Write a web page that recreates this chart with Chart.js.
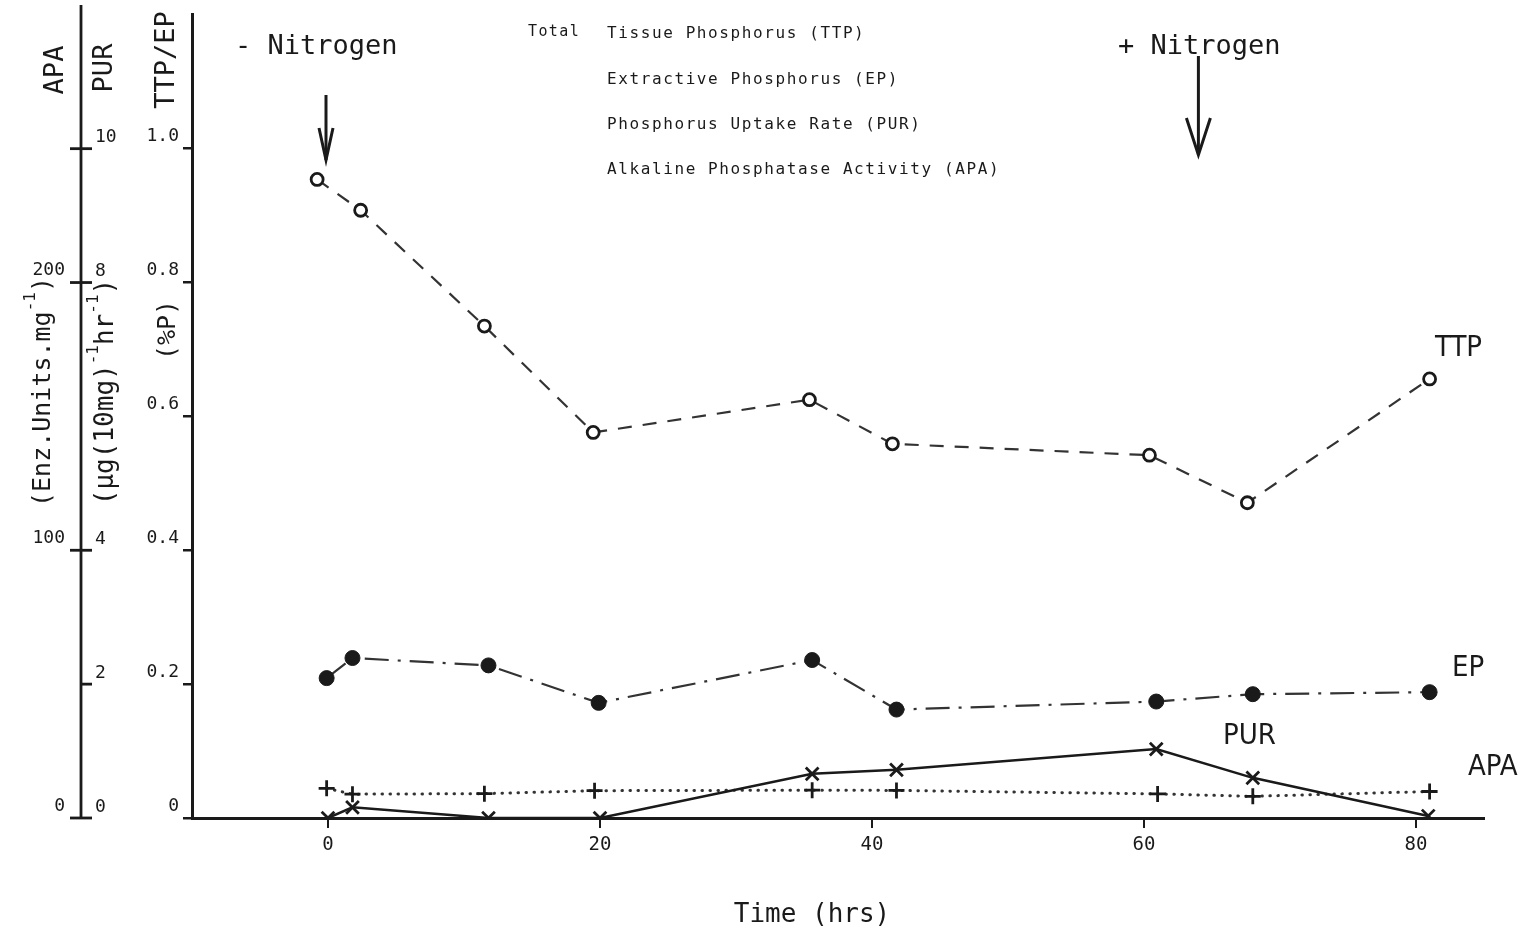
<!DOCTYPE html>
<html>
<head>
<meta charset="utf-8">
<title>Phosphorus status with and without nitrogen</title>
<script src="https://cdn.jsdelivr.net/npm/chart.js@4.4.1/dist/chart.umd.min.js"></script>
<style>
  html, body { margin: 0; padding: 0; background: #fff; }
  #wrap { width: 1524px; height: 935px; }
</style>
</head>
<body>
<div id="wrap"><canvas id="phChart" width="1524" height="935"></canvas></div>
<script>
// Sampling times (hrs) and readings for each series
const ttpHours = [-0.8, 2.4, 11.5, 19.5, 35.4, 41.5, 60.4, 67.6, 81.0];
const ttpValues = [0.954, 0.908, 0.735, 0.576, 0.625, 0.559, 0.542, 0.471, 0.656];

const epHours = [-0.1, 1.8, 11.8, 19.9, 35.6, 41.8, 60.9, 68.0, 81.0];
const epValues = [0.209, 0.239, 0.228, 0.172, 0.236, 0.162, 0.174, 0.185, 0.188];

const purHours = [0, 1.8, 11.8, 20.0, 35.6, 41.8, 60.9, 68.0, 80.9];
const purValues = [0, 0.16, 0, 0, 0.66, 0.72, 1.03, 0.6, 0.03];

const apaHours = [-0.1, 1.8, 11.5, 19.6, 35.6, 41.8, 61.0, 68.0, 81.0];
const apaValues = [11.1, 8.9, 9.1, 10.2, 10.4, 10.3, 9.0, 8.1, 9.9];

// Axis ticks
const timeTicks = [0, 20, 40, 60, 80];
const ttpTicks = [0, 0.2, 0.4, 0.6, 0.8, 1.0];
const purTicks = [0, 2, 4, 8, 10];
const apaTicks = [0, 100, 200, 250];
const apaTickLabels = ['0', '100', '200', ''];

// when nitrogen was taken away / given back (hrs)
const nitrogenRemovedAt = 0;
const nitrogenAddedAt = 64;

const INK = '#1a1a1a';
const MONO = '"DejaVu Sans Mono", monospace';
const NARROW = '"DejaVu Sans Condensed", "Liberation Sans Narrow", "DejaVu Sans", sans-serif';

function points(hours, values) {
    return hours.map((h, i) => ({ x: h, y: values[i] }));
}

function line(ctx, x1, y1, x2, y2) {
    ctx.beginPath();
    ctx.moveTo(x1, y1);
    ctx.lineTo(x2, y2);
    ctx.stroke();
}

// vertical text reading bottom-to-top, runs = [text, superscript?]
function rotatedText(ctx, runs, cx, cy, size) {
    const fontFor = sup => `${sup ? Math.round(size * 0.62) : size}px ${MONO}`;
    ctx.save();
    ctx.translate(cx, cy);
    ctx.rotate(-Math.PI / 2);
    let total = 0;
    runs.forEach(([t, sup]) => { ctx.font = fontFor(sup); total += ctx.measureText(t).width; });
    let x = -total / 2;
    ctx.textAlign = 'left';
    ctx.textBaseline = 'middle';
    runs.forEach(([t, sup]) => {
        ctx.font = fontFor(sup);
        ctx.fillText(t, x, sup ? -size * 0.48 : 0);
        x += ctx.measureText(t).width;
    });
    ctx.restore();
}

function arrowDown(ctx, x, top, tip, headLen, headHalf) {
    line(ctx, x, top, x, tip);
    ctx.beginPath();
    ctx.moveTo(x - headHalf, tip - headLen);
    ctx.lineTo(x, tip);
    ctx.lineTo(x + headHalf, tip - headLen);
    ctx.stroke();
}

// extra axis for APA / PUR, axis titles, notes and series labels
const decorations = {
    id: 'decorations',
    afterDraw(chart) {
        const { ctx, scales } = chart;
        const { x, yPur, yApa } = scales;
        const axisX = 81;

        ctx.save();
        ctx.strokeStyle = INK;
        ctx.fillStyle = INK;
        ctx.lineWidth = 2.8;

        // shared APA / PUR axis, labels sit a little above their ticks
        line(ctx, axisX, 5, axisX, yPur.getPixelForValue(0) + 1);
        ctx.font = `18px ${MONO}`;
        ctx.textBaseline = 'middle';
        purTicks.forEach(v => {
            const py = yPur.getPixelForValue(v);
            line(ctx, axisX, py, axisX + 11, py);
            ctx.textAlign = 'left';
            ctx.fillText(String(v), 95, py - 11);
        });
        apaTicks.forEach((v, i) => {
            const py = yApa.getPixelForValue(v);
            line(ctx, axisX - 11, py, axisX, py);
            ctx.textAlign = 'right';
            ctx.fillText(apaTickLabels[i], 65, py - 12);
        });

        // axis titles
        rotatedText(ctx, [['APA', false]], 56, 70, 27);
        rotatedText(ctx, [['PUR', false]], 105, 68, 27);
        rotatedText(ctx, [['TTP/EP', false]], 167, 60, 27);
        rotatedText(ctx, [['(Enz.Units.mg', false], ['-1', true], [')', false]], 43, 392, 25);
        rotatedText(ctx, [['(\u00b5g(10mg)', false], ['-1', true], ['hr', false], ['-1', true], [')', false]], 106, 392, 26);
        rotatedText(ctx, [['(%P)', false]], 168, 330, 25);

        ctx.textAlign = 'center';
        ctx.textBaseline = 'middle';
        ctx.font = `26px ${MONO}`;
        ctx.fillText('Time (hrs)', 812, 915);

        // nitrogen treatment
        ctx.textAlign = 'left';
        ctx.font = `27px ${MONO}`;
        ctx.fillText('- Nitrogen', 235, 47);
        ctx.fillText('+ Nitrogen', 1118, 47);
        ctx.lineWidth = 3;
        arrowDown(ctx, x.getPixelForValue(nitrogenRemovedAt) - 2, 95, 160, 32, 7);
        arrowDown(ctx, x.getPixelForValue(nitrogenAddedAt), 56, 155, 37, 12);

        // key
        ctx.font = `15px ${MONO}`;
        ctx.letterSpacing = '1.4px';
        ctx.fillText('Total', 528, 32);
        ctx.font = `16px ${MONO}`;
        ctx.letterSpacing = '1.6px';
        ctx.fillText('Tissue Phosphorus (TTP)', 607, 34);
        ctx.fillText('Extractive Phosphorus (EP)', 607, 80);
        ctx.fillText('Phosphorus Uptake Rate (PUR)', 607, 125);
        ctx.fillText('Alkaline Phosphatase Activity (APA)', 607, 170);
        ctx.letterSpacing = '0px';

        // series names
        ctx.font = `29px ${NARROW}`;
        ctx.fillText('TTP', 1435, 348);
        ctx.fillText('EP', 1452, 668);
        ctx.fillText('PUR', 1223, 736);
        ctx.fillText('APA', 1468, 767);

        ctx.restore();
    }
};

const tickFont = { family: MONO, size: 18 };

const ctx = document.getElementById('phChart').getContext('2d');

const phChart = new Chart(ctx, {
    type: 'line',
    data: {
        datasets: [
            {
                label: 'TTP',
                data: points(ttpHours, ttpValues),
                yAxisID: 'y',
                borderColor: '#333',
                borderWidth: 2.2,
                borderDash: [14, 11],
                pointStyle: 'circle',
                pointRadius: 6,
                pointBackgroundColor: '#fff',
                pointBorderColor: INK,
                pointBorderWidth: 2.8
            },
            {
                label: 'EP',
                data: points(epHours, epValues),
                yAxisID: 'y',
                borderColor: '#333',
                borderWidth: 2.2,
                borderDash: [24, 9, 3, 9],
                pointStyle: 'circle',
                pointRadius: 7.5,
                pointBackgroundColor: INK,
                pointBorderColor: INK,
                pointBorderWidth: 1
            },
            {
                label: 'PUR',
                data: points(purHours, purValues),
                yAxisID: 'yPur',
                borderColor: INK,
                borderWidth: 2.5,
                pointStyle: 'crossRot',
                pointRadius: 9,
                pointBorderColor: INK,
                pointBorderWidth: 2.8
            },
            {
                label: 'APA',
                data: points(apaHours, apaValues),
                yAxisID: 'yApa',
                borderColor: '#333',
                borderWidth: 3,
                borderDash: [0.5, 7.5],
                borderCapStyle: 'round',
                pointStyle: 'cross',
                pointRadius: 8,
                pointBorderColor: INK,
                pointBorderWidth: 2.8
            }
        ]
    },
    options: {
        responsive: false,
        animation: false,
        layout: { padding: { left: 122, right: 40, top: 9, bottom: 0 } },
        plugins: {
            legend: { display: false },
            tooltip: { enabled: false }
        },
        scales: {
            x: {
                type: 'linear',
                min: -10,
                max: 85,
                afterBuildTicks: s => { s.ticks = timeTicks.map(v => ({ value: v })); },
                afterFit: s => { s.height = 117; },
                grid: { drawOnChartArea: false, tickLength: 10, color: INK, lineWidth: 2 },
                border: { color: INK, width: 3 },
                ticks: { font: { family: MONO, size: 19 }, color: INK, padding: 6, autoSkip: false, maxRotation: 0 }
            },
            y: {
                position: 'left',
                min: 0,
                max: 1.2,
                afterBuildTicks: s => { s.ticks = ttpTicks.map(v => ({ value: v })); },
                afterFit: s => { s.width = 70; },
                grid: { drawOnChartArea: false, tickLength: 9, color: INK, lineWidth: 2.5 },
                border: { color: INK, width: 3 },
                ticks: {
                    font: tickFont,
                    color: INK,
                    padding: 4,
                    labelOffset: -12,
                    callback: v => (v === 0 ? '0' : v.toFixed(1))
                }
            },
            yPur: { display: false, min: 0, max: 12 },
            yApa: { display: false, min: 0, max: 300 }
        }
    },
    plugins: [decorations]
});
</script>
</body>
</html>
